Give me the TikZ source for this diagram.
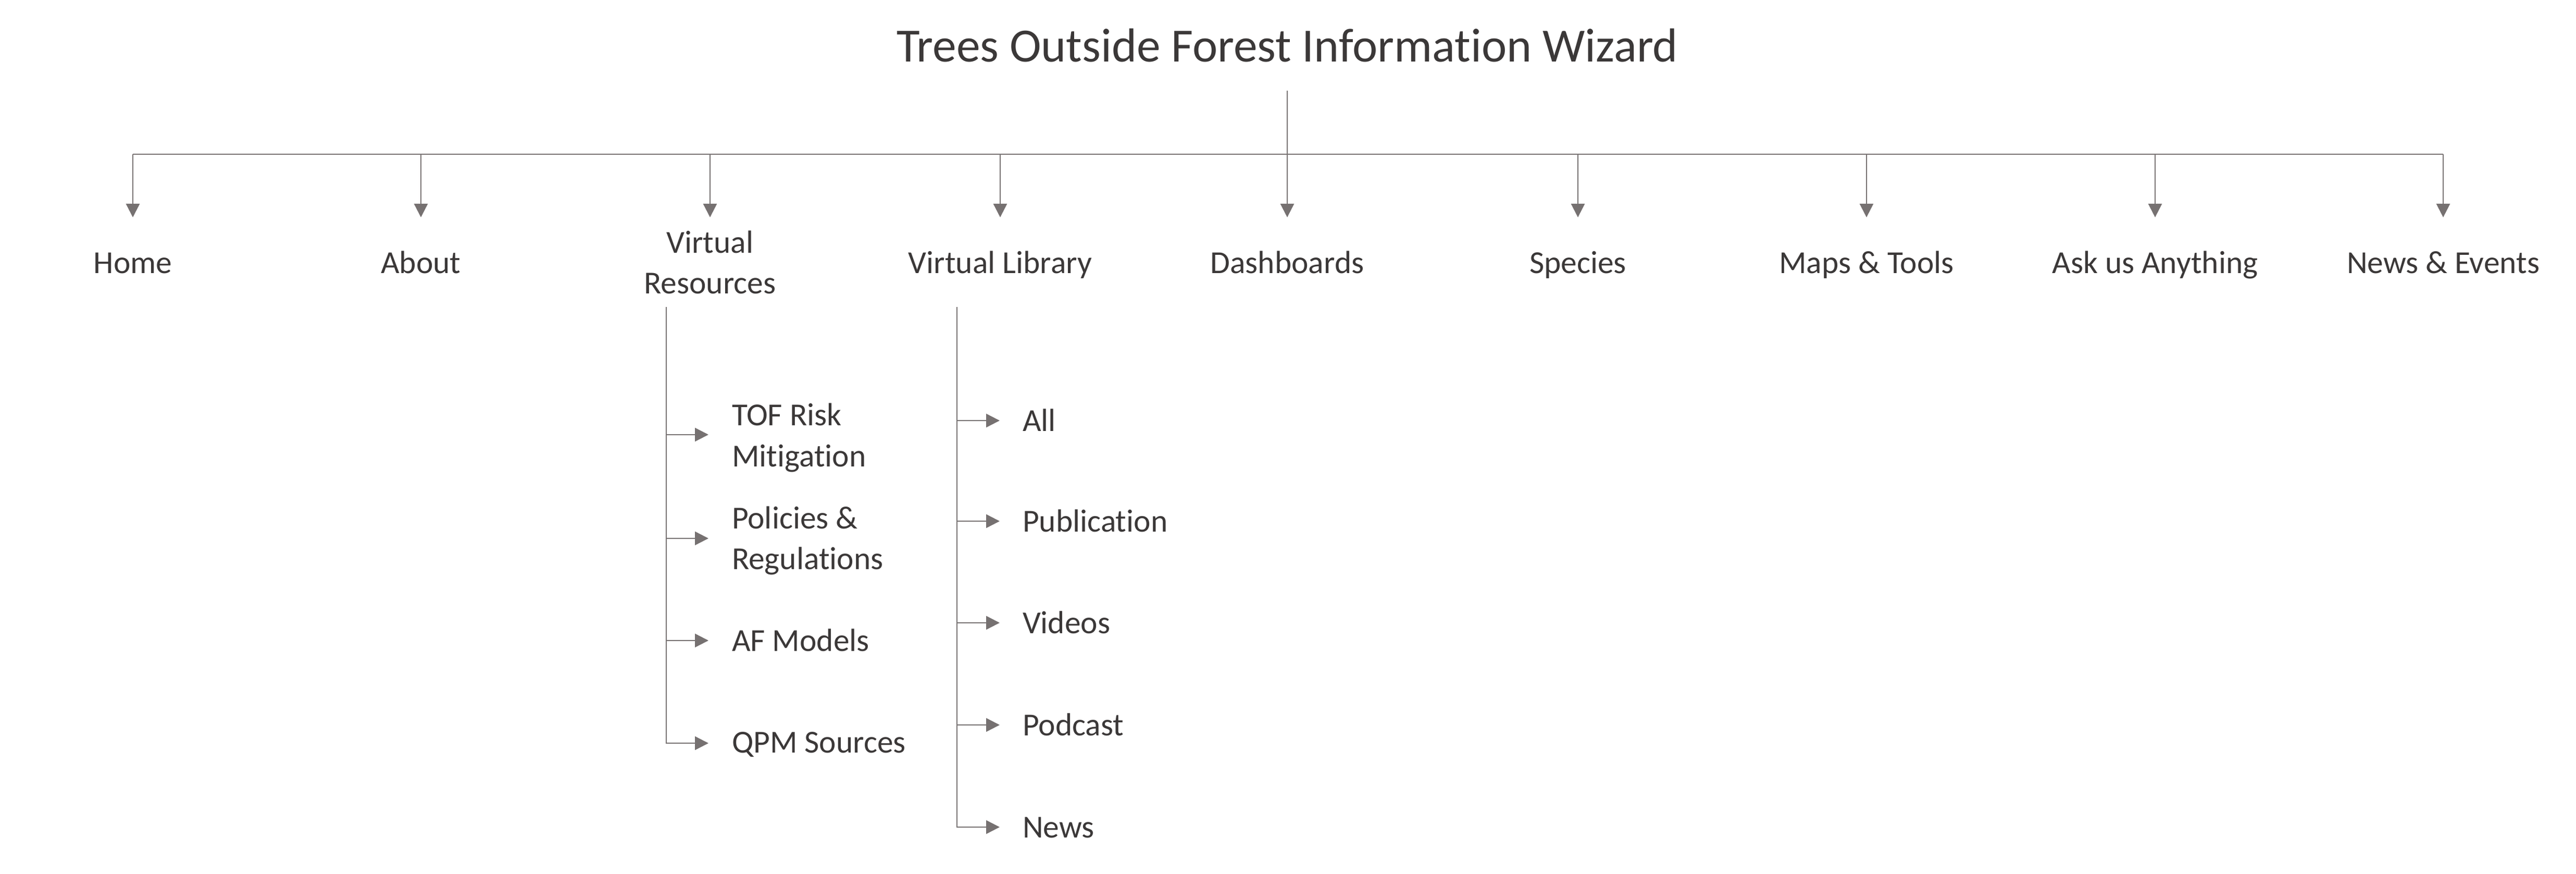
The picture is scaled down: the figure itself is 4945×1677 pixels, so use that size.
\documentclass[tikz,border=0pt]{standalone}
\usepackage{fontspec}
\setmainfont{Carlito}[Ligatures=NoCommon]
\usetikzlibrary{arrows.meta,calc}
\definecolor{txt}{HTML}{3B3838}
\definecolor{ln}{HTML}{767171}
\begin{document}
\begin{tikzpicture}[x=0.2pt,y=-0.2pt,
  lbl/.style={font=\fontsize{12.3}{15.6}\selectfont, text=txt, inner sep=0pt},
  ttl/.style={font=\fontsize{18.3}{22}\selectfont, text=txt, inner sep=0pt},
  conn/.style={draw=ln, line width=0.5pt},
  arr/.style={conn, -{Triangle[width=5.2pt,length=5.2pt]}}]
\useasboundingbox (0,0) rectangle (4945,1677);
% title
\node[ttl, anchor=base] (title) at (2471,119) {Trees Outside Forest Information Wizard};
\coordinate (ttop) at (2471,174);
\coordinate (hub) at (2471,296);
\coordinate (bl) at (255,296);
\coordinate (br) at (4690,296);
\coordinate (tip) at (0,417);
\draw[conn] (ttop) -- (hub);
\draw[conn] (bl) -- (br);
% top level
\node[lbl, anchor=base] (home) at (255,525) {Home};
\node[lbl, anchor=base] (about) at (808,525) {About};
\node[lbl, anchor=base] (vres) at (1363,564) {\begin{tabular}[b]{@{}c@{}}Virtual\\Resources\end{tabular}};
\node[lbl, anchor=base] (vlib) at (1920,525) {Virtual Library};
\node[lbl, anchor=base] (dash) at (2471,525) {Dashboards};
\node[lbl, anchor=base] (species) at (3029,525) {Species};
\node[lbl, anchor=base] (maps) at (3583,525) {Maps \& Tools};
\node[lbl, anchor=base] (ask) at (4137,525) {Ask us Anything};
\node[lbl, anchor=base] (news) at (4690,525) {News \& Events};
\foreach \n in {home,about,vres,vlib,dash,species,maps,ask,news}
  \draw[arr] (\n |- bl) -- (\n |- tip);
% Virtual Resources subtree
\coordinate (vrs) at (1279,589);
\coordinate (r1) at (1360,834);
\coordinate (r2) at (1360,1033);
\coordinate (r3) at (1360,1229);
\coordinate (r4) at (1360,1426);
\node[lbl, anchor=base west] (tof) at (1404,895) {\begin{tabular}[b]{@{}l@{}}TOF Risk\\Mitigation\end{tabular}};
\node[lbl, anchor=base west] (pol) at (1404,1092) {\begin{tabular}[b]{@{}l@{}}Policies \&\\Regulations\end{tabular}};
\node[lbl, anchor=base west] (afm) at (1404,1249) {AF Models};
\node[lbl, anchor=base west] (qpm) at (1404,1444) {QPM Sources};
\draw[arr] (vrs) -- (vrs |- r4) -- (r4);
\foreach \r in {r1,r2,r3}
  \draw[arr] (vrs |- \r) -- (\r);
% Virtual Library subtree
\coordinate (vls) at (1837,589);
\coordinate (l1) at (1919,807);
\coordinate (l2) at (1919,1000);
\coordinate (l3) at (1919,1195);
\coordinate (l4) at (1919,1391);
\coordinate (l5) at (1919,1587);
\node[lbl, anchor=base west] (all) at (1962,827) {All};
\node[lbl, anchor=base west] (pub) at (1962,1020) {Publication};
\node[lbl, anchor=base west] (vid) at (1962,1215) {Videos};
\node[lbl, anchor=base west] (pod) at (1962,1411) {Podcast};
\node[lbl, anchor=base west] (nws) at (1962,1607) {News};
\draw[arr] (vls) -- (vls |- l5) -- (l5);
\foreach \l in {l1,l2,l3,l4}
  \draw[arr] (vls |- \l) -- (\l);
\end{tikzpicture}
\end{document}
